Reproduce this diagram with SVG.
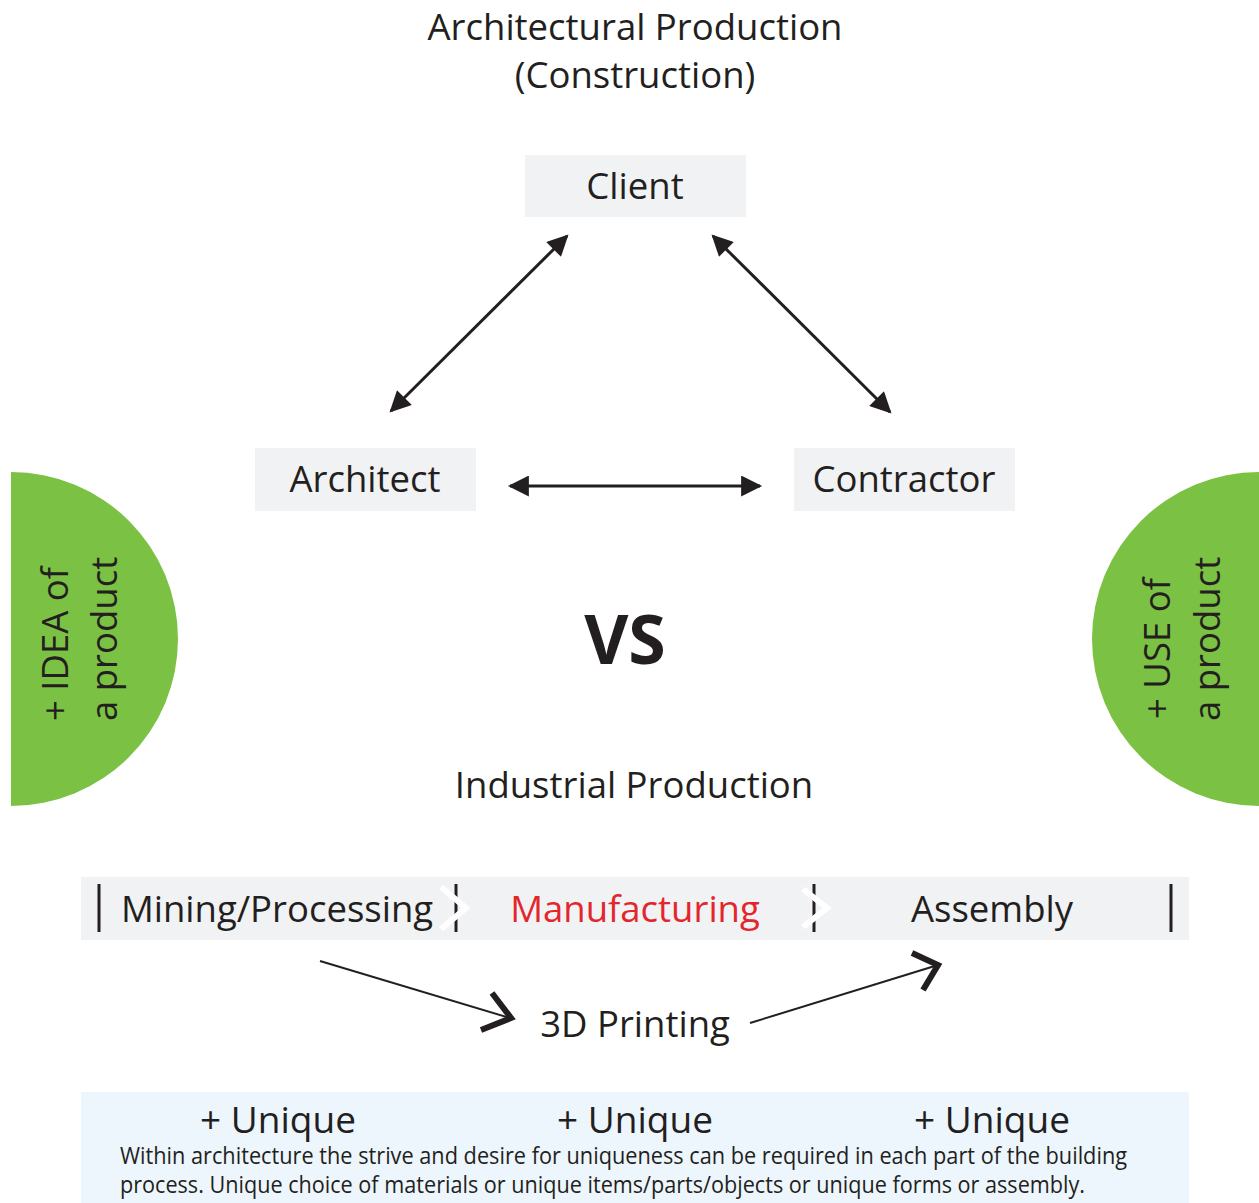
<svg xmlns="http://www.w3.org/2000/svg" width="1259" height="1203" viewBox="0 0 1259 1203">
  <defs>
    <style>
      text { font-family: "Open Sans", "Noto Sans", "DejaVu Sans", sans-serif; fill: #231f20; }
      .title { font-size: 36.5px; text-anchor: middle; }
      .label { font-size: 36.5px; text-anchor: middle; }
      .box { fill: #f1f2f4; }
      .bubble { fill: #7bc143; }
      .side { font-size: 36.5px; }
      .line { stroke: #231f20; stroke-width: 3; fill: none; }
      .thin { stroke: #231f20; stroke-width: 2; fill: none; }
      .chev { stroke: #231f20; stroke-width: 6; fill: none; stroke-linejoin: miter; }
      .tick { stroke: #231f20; stroke-width: 3; }
      .white-chev { stroke: #ffffff; stroke-width: 6; fill: none; stroke-linejoin: miter; }
      .unique { font-size: 37px; text-anchor: middle; }
      .note { font-size: 23px; }
    </style>
    <marker id="head" viewBox="0 0 10 10" refX="9" refY="5" markerWidth="8.5" markerHeight="7" markerUnits="strokeWidth" orient="auto-start-reverse">
      <path d="M0,0 L10,5 L0,10 z" fill="#231f20"/>
    </marker>
  </defs>

  <rect width="1259" height="1203" fill="#ffffff"/>

  <!-- Headings -->
  <g id="heading-architectural">
    <text class="title" x="635" y="40">Architectural Production</text>
    <text class="title" x="635" y="88">(Construction)</text>
  </g>

  <!-- Construction triangle -->
  <g id="node-client">
    <rect class="box" x="525" y="155" width="221" height="62"/>
    <text class="label" x="635" y="199">Client</text>
  </g>
  <g id="node-architect">
    <rect class="box" x="255" y="448" width="221" height="63"/>
    <text class="label" x="365" y="492">Architect</text>
  </g>
  <g id="node-contractor">
    <rect class="box" x="794" y="448" width="221" height="63"/>
    <text class="label" x="904" y="492">Contractor</text>
  </g>

  <g id="connectors">
    <line class="line" x1="391" y1="411" x2="567" y2="236" marker-start="url(#head)" marker-end="url(#head)"/>
    <line class="line" x1="713" y1="236" x2="890" y2="412" marker-start="url(#head)" marker-end="url(#head)"/>
    <line class="line" x1="510" y1="486" x2="760" y2="486" marker-start="url(#head)" marker-end="url(#head)"/>
    <!-- industrial flow through 3D printing -->
    <line class="thin" x1="320" y1="961" x2="510" y2="1018"/>
    <polyline class="chev" points="492,993 511,1018 481,1030"/>
    <line class="thin" x1="750" y1="1023" x2="938" y2="965"/>
    <polyline class="chev" points="912,953 938,965 923,990"/>
  </g>

  <!-- Side bubbles -->
  <g id="bubble-idea">
    <path class="bubble" d="M11,472 A167,167 0 0 1 11,806 Z"/>
    <text class="side" transform="translate(68,721) rotate(-90)">+ IDEA of</text>
    <text class="side" transform="translate(117,721) rotate(-90)">a product</text>
  </g>
  <g id="bubble-use">
    <path class="bubble" d="M1259,472 A167,167 0 0 0 1259,806 Z"/>
    <text class="side" transform="translate(1170,719) rotate(-90)">+ USE of</text>
    <text class="side" transform="translate(1220,721) rotate(-90)">a product</text>
  </g>

  <g id="versus">
    <text x="625" y="664" font-size="68" font-weight="bold" text-anchor="middle">VS</text>
  </g>

  <g id="heading-industrial">
    <text class="title" x="634" y="798">Industrial Production</text>
  </g>

  <!-- Industrial process bar -->
  <g id="process-bar">
    <rect class="box" x="81" y="877" width="1108" height="63"/>
    <line class="tick" x1="99" y1="884" x2="99" y2="932"/>
    <line class="tick" x1="1171" y1="884" x2="1171" y2="932"/>
    <line class="tick" x1="456" y1="884" x2="456" y2="932"/>
    <polyline class="white-chev" points="441,887 466,908 441,929"/>
    <line class="tick" x1="814" y1="884" x2="814" y2="932"/>
    <polyline class="white-chev" points="803,889 827,908 803,927"/>
  </g>
  <g id="node-mining">
    <text class="label" x="277" y="922">Mining/Processing</text>
  </g>
  <g id="node-manufacturing">
    <text class="label" x="635" y="922" style="fill:#e3262c">Manufacturing</text>
  </g>
  <g id="node-assembly">
    <text class="label" x="992" y="922">Assembly</text>
  </g>

  <g id="node-3d-printing">
    <text class="label" x="635" y="1037">3D Printing</text>
  </g>

  <!-- Uniqueness note -->
  <g id="note-unique">
    <rect x="81" y="1092" width="1108" height="111" fill="#edf6fc"/>
    <text class="unique" x="278" y="1133">+ Unique</text>
    <text class="unique" x="635" y="1133">+ Unique</text>
    <text class="unique" x="992" y="1133">+ Unique</text>
    <text class="note" x="120" y="1164" textLength="1007" lengthAdjust="spacingAndGlyphs">Within architecture the strive and desire for uniqueness can be required in each part of the building</text>
    <text class="note" x="120" y="1193" textLength="965" lengthAdjust="spacingAndGlyphs">process. Unique choice of materials or unique items/parts/objects or unique forms or assembly.</text>
  </g>
</svg>
